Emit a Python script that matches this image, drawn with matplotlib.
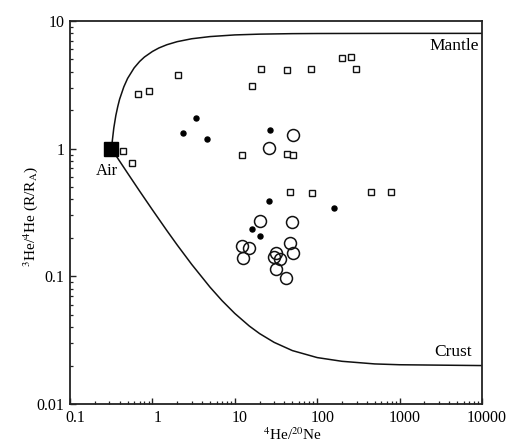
import matplotlib
matplotlib.use("Agg")
import matplotlib.pyplot as plt
import matplotlib.transforms as mtransforms
from matplotlib.ticker import LogLocator, NullFormatter

plt.rcParams['font.family'] = ['Liberation Serif', 'DejaVu Serif']
plt.rcParams['mathtext.fontset'] = 'stix'

# air - mantle mixing line
mantle_x = [0.318, 0.34, 0.36, 0.38, 0.4, 0.45, 0.5, 0.6, 0.7, 0.8, 1, 1.2, 1.5,
            2, 3, 5, 10, 20, 50, 100, 1000, 10000]
mantle_y = [1.0, 1.45, 1.82, 2.14, 2.44, 3.05, 3.55, 4.29, 4.82, 5.22, 5.77, 6.15, 6.52,
            6.89, 7.26, 7.55, 7.78, 7.89, 7.96, 7.98, 8.0, 8.0]

# air - crust mixing line
crust_x = [0.318, 0.4, 0.5, 0.7, 1, 1.5, 2, 3, 5, 7, 10, 15, 20, 30, 50, 100, 200,
           500, 1000, 10000]
crust_y = [1.0, 0.799, 0.643, 0.465, 0.332, 0.228, 0.176, 0.124, 0.0823, 0.0645,
           0.0512, 0.0408, 0.0356, 0.0304, 0.0262, 0.0231, 0.0216, 0.0206, 0.0203, 0.0200]

# open squares
sq_x = [0.444, 0.57, 0.674, 0.909, 2.03, 12.1, 16.0, 21.0, 42.6, 84.1, 202, 255, 296,
        42.6, 51.3, 46.4, 86.9, 450, 786]
sq_y = [0.96, 0.777, 2.67, 2.85, 3.76, 0.888, 3.10, 4.23, 4.13, 4.19, 5.10, 5.25, 4.19,
        0.901, 0.888, 0.456, 0.453, 0.460, 0.456]

# filled dots
dot_x = [3.38, 2.32, 4.66, 27.0, 26.2, 16.0, 20.2, 161]
dot_y = [1.75, 1.32, 1.20, 1.41, 0.389, 0.235, 0.206, 0.341]

# open circles
circ_x = [26.2, 50.4, 20.3, 49.9, 46.8, 50.8, 12.4, 15.0, 12.45, 31.6, 29.6, 35.4,
          31.6, 41.6]
circ_y = [1.016, 1.285, 0.272, 0.267, 0.184, 0.153, 0.172, 0.167, 0.140, 0.153, 0.141,
          0.137, 0.1147, 0.0977]

air_x, air_y = [0.318], [1.0]

xticks = [0.1, 1, 10, 100, 1000, 10000]
xticklabels = ['0.1', '1', '10', '100', '1000', '10000']
yticks = [0.01, 0.1, 1, 10]
yticklabels = ['0.01', '0.1', '1', '10']

fig = plt.figure(figsize=(5.17, 4.43), dpi=100)
ax = fig.add_axes([70 / 517, 1 - 404 / 443, 412 / 517, 383 / 443])

ax.plot(mantle_x, mantle_y, color='#111111', lw=1.1, zorder=2)
ax.plot(crust_x, crust_y, color='#111111', lw=1.1, zorder=2)

ax.plot(sq_x, sq_y, ls='none', marker='s', ms=4.2, mfc='white', mec='#111111', mew=1.0, zorder=3)
ax.plot(dot_x, dot_y, ls='none', marker='o', ms=3.6, mfc='black', mec='black', zorder=3)
ax.plot(circ_x, circ_y, ls='none', marker='o', ms=8.6, mfc='none', mec='#111111', mew=1.1, zorder=3)
ax.plot(air_x, air_y, ls='none', marker='s', ms=10, mfc='black', mec='black', zorder=4)

ax.set_xscale('log')
ax.set_yscale('log')
ax.set_xlim(0.1, 10000)
ax.set_ylim(0.01, 10)

ax.set_xticks(xticks)
ax.set_xticklabels(xticklabels)
ax.set_yticks(yticks)
ax.set_yticklabels(yticklabels)
ax.xaxis.set_minor_locator(LogLocator(base=10, subs=range(2, 10)))
ax.yaxis.set_minor_locator(LogLocator(base=10, subs=range(2, 10)))
ax.xaxis.set_minor_formatter(NullFormatter())
ax.yaxis.set_minor_formatter(NullFormatter())
ax.tick_params(which='both', direction='in', top=False, right=False, labelsize=11.5,
               color='#222222')
ax.tick_params(which='major', length=4, width=1.0, pad=4)
ax.tick_params(which='minor', length=2.5, width=0.9)
for s in ax.spines.values():
    s.set_linewidth(1.3)
    s.set_color('#222222')

# x tick labels sit a little right of their ticks in the original
shift = mtransforms.ScaledTranslation(0.05, 0, fig.dpi_scale_trans)
for lab in ax.get_xticklabels():
    lab.set_transform(lab.get_transform() + shift)

ax.text(0.279, 0.665, 'Air', ha='center', va='center', fontsize=12)
ax.text(9300, 7.35, 'Mantle', ha='right', va='top', fontsize=12.5)
ax.text(7600, 0.0223, 'Crust', ha='right', va='bottom', fontsize=12.5)

ax.set_xlabel(r'$^{4}$He/$^{20}$Ne', fontsize=11)
ax.xaxis.set_label_coords(0.541, -0.058)
ax.set_ylabel(r'$^{3}$He/$^{4}$He (R/R$_{\rm A}$)', fontsize=11)
ax.yaxis.set_label_coords(-0.073, 0.49)

fig.savefig('out.png', dpi=100, facecolor='white')
